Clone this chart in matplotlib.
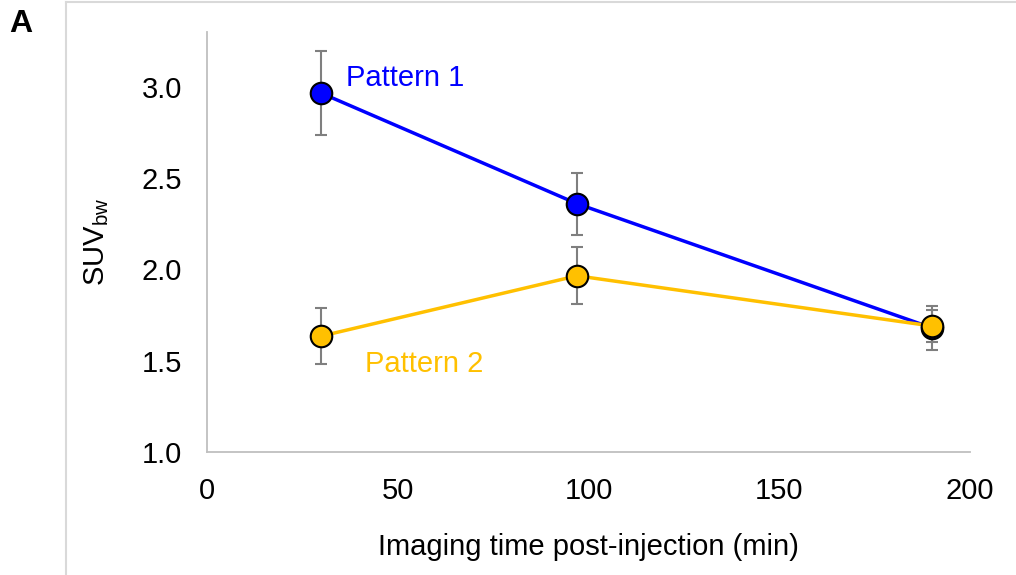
import matplotlib
matplotlib.use("Agg")
import matplotlib.pyplot as plt
from matplotlib.lines import Line2D

plt.rcParams['font.family'] = ['Liberation Sans', 'DejaVu Sans']

times = [30, 97, 190]
pattern1 = [2.965, 2.36, 1.68]
pattern1_err = [0.23, 0.17, 0.12]
pattern2 = [1.635, 1.965, 1.69]
pattern2_err = [0.155, 0.155, 0.085]
xticks = [0, 50, 100, 150, 200]
yticks = [1.0, 1.5, 2.0, 2.5, 3.0]

blue = '#0000FF'
gold = '#FFC000'

fig = plt.figure(figsize=(10.16, 5.75), dpi=100)
ax = fig.add_axes([0.2037, 0.2139, 0.751, 0.7304])

ax.errorbar(times, pattern1, yerr=pattern1_err, fmt='none', ecolor='#7F7F7F',
            elinewidth=1.5, capsize=4.5, capthick=1.5, zorder=1)
ax.errorbar(times, pattern2, yerr=pattern2_err, fmt='none', ecolor='#7F7F7F',
            elinewidth=1.5, capsize=4.5, capthick=1.5, zorder=1)
ax.plot(times, pattern1, color=blue, lw=2.5, marker='o', markersize=15.5,
        markerfacecolor=blue, markeredgecolor='black', markeredgewidth=1.5, zorder=3)
ax.plot(times, pattern2, color=gold, lw=2.5, marker='o', markersize=15.5,
        markerfacecolor=gold, markeredgecolor='black', markeredgewidth=1.5, zorder=4)

ax.text(36.5, 3.05, 'Pattern 1', color=blue, fontsize=21, va='center', ha='left')
ax.text(41.5, 1.48, 'Pattern 2', color=gold, fontsize=21, va='center', ha='left')

ax.set_xlim(0, 200)
ax.set_ylim(1.0, 3.3)
ax.set_xticks(xticks)
ax.set_xticklabels([str(x) for x in xticks])
ax.set_yticks(yticks)
ax.set_yticklabels([f'{y:.1f}' for y in yticks])
ax.tick_params(axis='both', length=0, labelsize=21, colors='black')
ax.tick_params(axis='y', pad=18)
ax.tick_params(axis='x', pad=18)
for s in ['top', 'right']:
    ax.spines[s].set_visible(False)
for s in ['left', 'bottom']:
    ax.spines[s].set_color('#BFBFBF')
    ax.spines[s].set_linewidth(1.3)

ax.set_xlabel('Imaging time post-injection (min)', fontsize=21, labelpad=20)
ax.set_ylabel(r'SUV$_{\mathregular{bw}}$', fontsize=21, labelpad=22)

# panel frame
fig.add_artist(Line2D([66/1016, 66/1016], [0, 1 - 2/575], transform=fig.transFigure,
                      color='#D9D9D9', lw=1.5))
fig.add_artist(Line2D([66/1016, 1], [1 - 2/575, 1 - 2/575], transform=fig.transFigure,
                      color='#D9D9D9', lw=1.5))
fig.text(9/1016, 1 - 24/575, 'A', fontsize=23, fontweight='bold', va='center', ha='left')

fig.savefig('out.png', dpi=100)
